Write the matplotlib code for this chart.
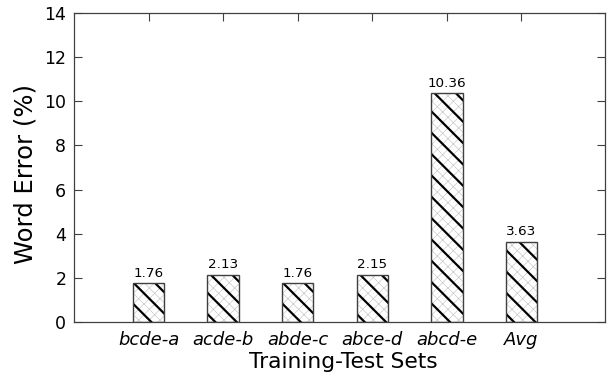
import numpy as np
import matplotlib
matplotlib.use('Agg')
import matplotlib.pyplot as plt

# data
sets = ['bcde-a', 'acde-b', 'abde-c', 'abce-d', 'abcd-e', 'Avg']
word_error = [1.76, 2.13, 1.76, 2.15, 10.36, 3.63]

pos = np.arange(1, len(sets) + 1)

# low dpi so the hatch cell comes out smaller; sizes scaled up to match
DPI = 64
s = 100.0 / DPI

fig = plt.figure(figsize=(607 / DPI, 379 / DPI), dpi=DPI)
ax = fig.add_axes([0.1219, 0.1504, 0.8748, 0.8153])

# light grey cross hatch underneath
plt.rcParams['hatch.linewidth'] = 0.45 * s
under = ax.bar(pos, word_error, width=0.42, color='white', edgecolor='#c4c4c4',
               hatch='xx', linewidth=0, zorder=2)
for b in under:
    if hasattr(b, 'set_hatch_linewidth'):
        b.set_hatch_linewidth(0.45 * s)

# bold black diagonal on top
plt.rcParams['hatch.linewidth'] = 1.6 * s
over = ax.bar(pos, word_error, width=0.42, color='none', edgecolor='black',
              hatch='\\', linewidth=0, zorder=3)
for b in over:
    if hasattr(b, 'set_hatch_linewidth'):
        b.set_hatch_linewidth(1.6 * s)

# outline
ax.bar(pos, word_error, width=0.42, color='none', edgecolor='#404040',
       linewidth=1.0 * s, zorder=4)

for x, v in zip(pos, word_error):
    ax.text(x, v + 0.16, '%.2f' % v, ha='center', va='bottom', fontsize=9.7 * s)

ax.set_xlim(0, 7.12)
ax.set_ylim(0, 14)
ax.set_yticks(range(0, 15, 2))
ax.set_xticks(pos)
ax.set_xticklabels(sets, fontstyle='italic', fontsize=13 * s)
ax.tick_params(axis='y', direction='in', length=6 * s, right=True, labelsize=12.5 * s,
               color='#404040', width=0.8 * s, pad=5.5 * s)
ax.tick_params(axis='x', direction='in', length=6 * s, top=True, bottom=False,
               color='#404040', width=0.8 * s, pad=6.5 * s)
for sp in ax.spines.values():
    sp.set_color('#404040')
    sp.set_linewidth(0.9 * s)

ax.set_ylabel('Word Error (%)', fontsize=17.5 * s, labelpad=5 * s)
ax.set_xlabel('Training-Test Sets', fontsize=15.7 * s, labelpad=2.2 * s)
ax.yaxis.label.set_y(0.48)
ax.xaxis.label.set_x(0.508)

fig.savefig('out.png', dpi=DPI)
